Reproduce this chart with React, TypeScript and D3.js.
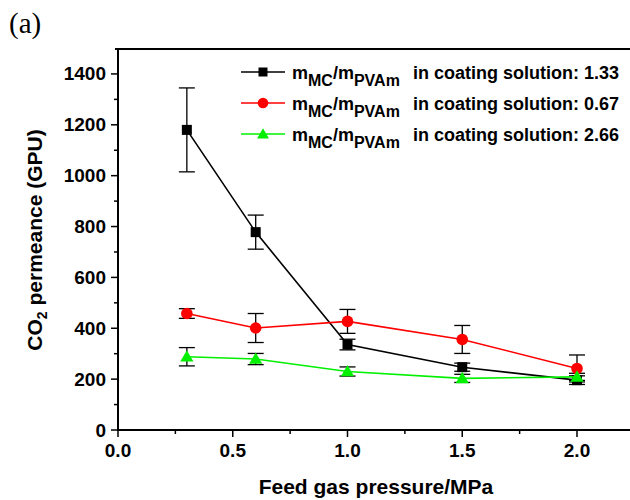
import React from "react";
import * as d3 from "d3";

const pressures = [0.3, 0.6, 1.0, 1.5, 2.0];
const perm133 = [1180, 778, 336, 247, 196];
const err133 = [165, 67, 21, 16, 17];
const perm067 = [458, 401, 427, 356, 242];
const err067 = [19, 57, 47, 55, 53];
const perm266 = [288, 279, 230, 203, 209];
const err266 = [36, 22, 18, 16, 14];
const ratioLabels = ["1.33", "0.67", "2.66"];
const xTicks = [0, 0.5, 1.0, 1.5, 2.0];
const yTicks = [0, 200, 400, 600, 800, 1000, 1200, 1400];

const FONT = "Arial, 'Liberation Sans', sans-serif";

const series = [
  { values: perm133, errs: err133, color: "#000000", shape: "square", label: ratioLabels[0] },
  { values: perm067, errs: err067, color: "#ff0000", shape: "circle", label: ratioLabels[1] },
  { values: perm266, errs: err266, color: "#00f000", shape: "triangle", label: ratioLabels[2] },
];

const Marker = ({ shape, x, y, color, size }: any) => {
  if (shape === "square")
    return <rect x={x - size / 2} y={y - size / 2} width={size} height={size} fill={color} />;
  if (shape === "circle") return <circle cx={x} cy={y} r={size / 2 + 0.8} fill={color} />;
  const sym = d3.symbol().type(d3.symbolTriangle).size(size * size * 0.75)();
  return <path d={sym || ""} transform={`translate(${x},${y + 1})`} fill={color} />;
};

export default function App() {
  const left = 118;
  const bottom = 430;
  const x = d3.scaleLinear().domain([0, 2.25]).range([left, left + 2.25 * 229.5]);
  const y = d3.scaleLinear().domain([0, 1500]).range([bottom, 48.5]);

  const xMinor = d3.range(0.25, 2.25, 0.5);
  const yMinor = d3.range(100, 1500, 200);

  const line = d3
    .line<number>()
    .x((_, i) => x(pressures[i]))
    .y((d) => y(d));

  return (
    <svg width={630} height={500} style={{ position: "absolute", left: 0, top: 0, background: "#fff" }}>
      <text x={9} y={33} fontFamily="'Times New Roman', 'Liberation Serif', serif" fontSize={29}>
        (a)
      </text>

      {/* axes */}
      <line x1={left - 3} x2={630} y1={49} y2={49} stroke="#000" strokeWidth={2} />
      <line x1={left} x2={left} y1={48} y2={bottom + 1} stroke="#000" strokeWidth={2} />
      <line x1={left - 1} x2={630} y1={bottom} y2={bottom} stroke="#000" strokeWidth={2} />

      {yTicks.map((t) => (
        <g key={"y" + t}>
          <line x1={left - 7} x2={left} y1={y(t)} y2={y(t)} stroke="#000" strokeWidth={1.5} />
          <text
            x={left - 12}
            y={y(t) + 6.5}
            textAnchor="end"
            fontFamily={FONT}
            fontWeight="bold"
            fontSize={19}
          >
            {t}
          </text>
        </g>
      ))}
      {yMinor.map((t) => (
        <line key={"ym" + t} x1={left - 4} x2={left} y1={y(t)} y2={y(t)} stroke="#000" strokeWidth={1.5} />
      ))}
      {xTicks.map((t) => (
        <g key={"x" + t}>
          <line x1={x(t)} x2={x(t)} y1={bottom} y2={bottom + 7} stroke="#000" strokeWidth={1.5} />
          <text x={x(t)} y={bottom + 27} textAnchor="middle" fontFamily={FONT} fontWeight="bold" fontSize={19}>
            {t.toFixed(1)}
          </text>
        </g>
      ))}
      {xMinor.map((t) => (
        <line key={"xm" + t} x1={x(t)} x2={x(t)} y1={bottom} y2={bottom + 4} stroke="#000" strokeWidth={1.5} />
      ))}

      <text x={376} y={494} textAnchor="middle" fontFamily={FONT} fontWeight="bold" fontSize={21}>
        Feed gas pressure/MPa
      </text>
      <text
        transform="translate(42,240) rotate(-90)"
        textAnchor="middle"
        fontFamily={FONT}
        fontWeight="bold"
        fontSize={21}
      >
        CO
        <tspan fontSize={14} dy={5}>
          2
        </tspan>
        <tspan dy={-5}> permeance (GPU)</tspan>
      </text>

      {/* error bars */}
      {series.map((s, si) => (
        <g key={"e" + si} stroke="#000" strokeWidth={1.3}>
          {s.values.map((v, i) => {
            const cx = x(pressures[i]);
            const y1 = y(v + s.errs[i]);
            const y2 = y(v - s.errs[i]);
            return (
              <g key={i}>
                <line x1={cx} x2={cx} y1={y1} y2={y2} />
                <line x1={cx - 8} x2={cx + 8} y1={y1} y2={y1} />
                <line x1={cx - 8} x2={cx + 8} y1={y2} y2={y2} />
              </g>
            );
          })}
        </g>
      ))}

      {/* lines and markers */}
      {series.map((s, si) => (
        <g key={"s" + si}>
          <path d={line(s.values) || ""} fill="none" stroke={s.color} strokeWidth={1.6} />
          {s.values.map((v, i) => (
            <Marker key={i} shape={s.shape} x={x(pressures[i])} y={y(v)} color={s.color} size={10} />
          ))}
        </g>
      ))}

      {/* legend */}
      {series.map((s, si) => {
        const ly = 72 + si * 31;
        return (
          <g key={"l" + si}>
            <line x1={241} x2={285} y1={ly} y2={ly} stroke={s.color} strokeWidth={1.6} />
            <Marker shape={s.shape} x={263} y={ly} color={s.color} size={9} />
            <text x={292} y={ly + 6.5} fontFamily={FONT} fontWeight="bold" fontSize={18}>
              m
              <tspan fontSize={16} dy={7}>
                MC
              </tspan>
              <tspan dy={-7}>/m</tspan>
              <tspan fontSize={16} dy={7}>
                PVAm
              </tspan>
            </text>
            <text x={413} y={ly + 6.5} fontFamily={FONT} fontWeight="bold" fontSize={18}>
              in coating solution: {s.label}
            </text>
          </g>
        );
      })}
    </svg>
  );
}
